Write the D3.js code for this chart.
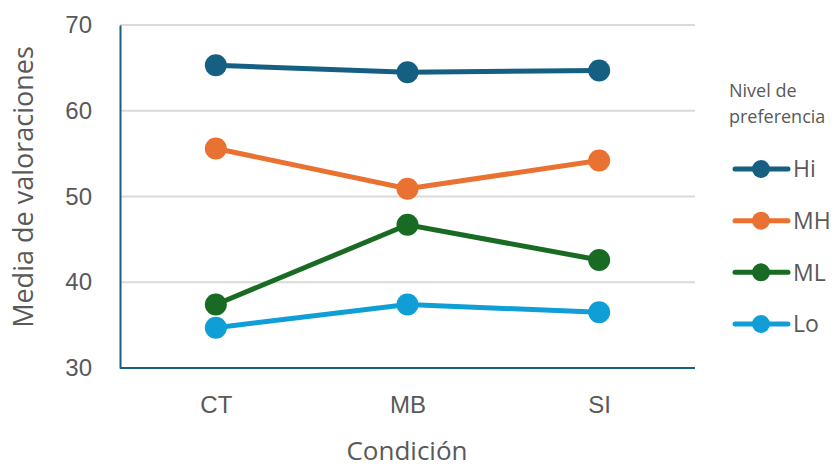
<!DOCTYPE html>
<html>
<head>
<meta charset="utf-8">
<script src="https://cdn.jsdelivr.net/npm/d3@7"></script>
<style>
  html, body { margin: 0; padding: 0; background: #fff; }
  svg { display: block; font-family: "Open Sans", "Noto Sans", sans-serif; }
</style>
</head>
<body>
<svg id="chart" width="836" height="468"></svg>
<script>
// Condiciones del eje X
const condiciones = ["CT", "MB", "SI"];
// Niveles de preferencia (series)
const niveles = ["Hi", "MH", "ML", "Lo"];
const colores = ["#156082", "#E97132", "#196B24", "#0F9ED5"];
// Medias de valoraciones por nivel y condición
const valoresHi = [65.3, 64.5, 64.7];
const valoresMH = [55.6, 50.9, 54.2];
const valoresML = [37.4, 46.7, 42.6];
const valoresLo = [34.7, 37.4, 36.5];
const yTicks = [30, 40, 50, 60, 70];

const series = [valoresHi, valoresMH, valoresML, valoresLo].map((v, i) => ({
  nombre: niveles[i], color: colores[i], valores: v
}));

const svg = d3.select("#chart");
const plot = { left: 120, right: 695, top: 25, bottom: 368 };

const x = d3.scalePoint().domain(condiciones).range([plot.left, plot.right]).padding(0.5);
const y = d3.scaleLinear().domain([30, 70]).range([plot.bottom, plot.top]);

const textColor = "#595959";

// Líneas de cuadrícula
svg.append("g")
  .selectAll("line")
  .data(yTicks.filter(t => t > 30))
  .join("line")
  .attr("x1", plot.left).attr("x2", plot.right)
  .attr("y1", d => y(d)).attr("y2", d => y(d))
  .attr("stroke", "#d9d9d9").attr("stroke-width", 2);

// Eje Y
const yAxis = svg.append("g")
  .attr("transform", `translate(${plot.left},0)`)
  .call(d3.axisLeft(y).tickValues(yTicks).tickSize(0).tickPadding(28));
yAxis.select(".domain").attr("stroke", "#156082").attr("stroke-width", 2);
yAxis.selectAll("text").attr("fill", textColor).attr("font-size", 24);

// Eje X
const xAxis = svg.append("g")
  .attr("transform", `translate(0,${plot.bottom})`)
  .call(d3.axisBottom(x).tickSize(0).tickPadding(28));
xAxis.select(".domain").attr("stroke", "#156082").attr("stroke-width", 2)
  .attr("d", `M${plot.left},0H${plot.right}`);
xAxis.selectAll("text").attr("fill", textColor).attr("font-size", 24);

// Títulos de ejes
svg.append("text")
  .attr("transform", `translate(33,187) rotate(-90)`)
  .attr("text-anchor", "middle")
  .attr("fill", textColor).attr("font-size", 27)
  .text("Media de valoraciones");

svg.append("text")
  .attr("x", 407).attr("y", 460)
  .attr("text-anchor", "middle")
  .attr("fill", textColor).attr("font-size", 26)
  .text("Condición");

// Series
const line = d3.line().x((d, i) => x(condiciones[i])).y(d => y(d));

const g = svg.append("g");
series.forEach(s => {
  g.append("path")
    .datum(s.valores)
    .attr("d", line)
    .attr("fill", "none")
    .attr("stroke", s.color)
    .attr("stroke-width", 5);
  g.selectAll(null)
    .data(s.valores)
    .join("circle")
    .attr("cx", (d, i) => x(condiciones[i]))
    .attr("cy", d => y(d))
    .attr("r", 11)
    .attr("fill", s.color);
});

// Leyenda
const leg = svg.append("g");
leg.append("text").attr("x", 729).attr("y", 97)
  .attr("fill", textColor).attr("font-size", 18).text("Nivel de");
leg.append("text").attr("x", 729).attr("y", 123)
  .attr("fill", textColor).attr("font-size", 18).text("preferencia");

const legY = d3.scalePoint().domain(niveles).range([169, 324]);
series.forEach(s => {
  const yy = legY(s.nombre);
  leg.append("line")
    .attr("x1", 735).attr("x2", 788).attr("y1", yy).attr("y2", yy)
    .attr("stroke", s.color).attr("stroke-width", 5).attr("stroke-linecap", "round");
  leg.append("circle").attr("cx", 761).attr("cy", yy).attr("r", 9).attr("fill", s.color);
  leg.append("text").attr("x", 793).attr("y", yy).attr("dy", "0.36em")
    .attr("fill", textColor).attr("font-size", 23).text(s.nombre);
});
</script>
</body>
</html>
